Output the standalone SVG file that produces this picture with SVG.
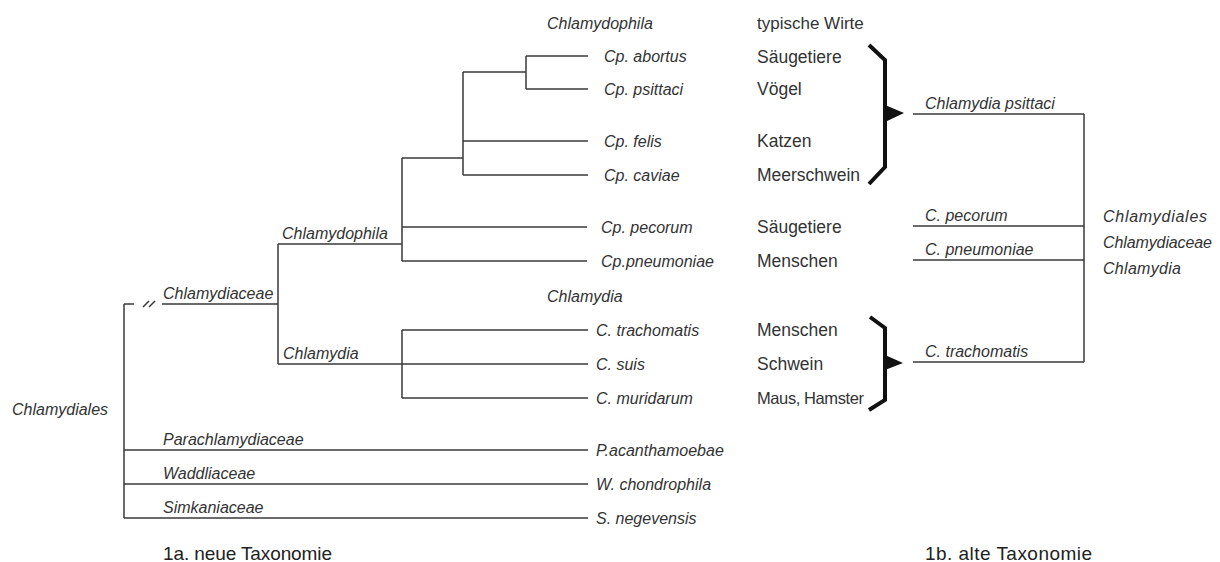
<svg xmlns="http://www.w3.org/2000/svg" width="1220" height="562" viewBox="0 0 1220 562">
<style>
  .t { font-family: "Liberation Sans", Arial, sans-serif; font-size: 16px; fill: #333; }
  .i { font-style: italic; }
  .h { font-size: 17.5px; }
  .h2 { font-size: 17px; }
  .h3 { font-size: 16.5px; }
  .cap { font-size: 19px; fill: #222; }
  .ln { stroke: #3a3a3a; stroke-width: 1.5; fill: none; }
  .br { stroke: #111; stroke-width: 4; fill: none; stroke-linejoin: miter; }
  .tri { fill: #111; }
</style>
<rect width="1220" height="562" fill="#ffffff"/>

<g id="connectors">
  <path class="ln" d="M124,304 V518 M124,304 H134 M162,304 H278"/>
  <path class="ln" d="M143,307 L149,301 M149,307 L155,301" stroke-width="1.3"/>
  <path class="ln" d="M124,450 H588 M124,484 H588 M124,518 H588"/>
  <path class="ln" d="M278,244 V364 M278,244 H402 M278,364 H402"/>
  <path class="ln" d="M402,158 V261 M402,158 H463 M402,227 H587 M402,261 H587"/>
  <path class="ln" d="M463,72 V175 M463,72 H526 M463,141 H588 M463,175 H588"/>
  <path class="ln" d="M526,56 V89 M526,56 H588 M526,89 H588"/>
  <path class="ln" d="M402,330 V398 M402,330 H588 M402,364 H588 M402,398 H588"/>
  <path class="ln" d="M1084,114 V362 M913,114 H1084 M913,226 H1084 M913,260 H1084 M913,362 H1084"/>
  <path class="br" d="M869,45 L885,60 V167 L869,184"/>
  <polygon class="tri" points="885,105 904,113 885,122"/>
  <path class="br" d="M870,317 L885,328 V400 L869,410"/>
  <polygon class="tri" points="885,355 903,363 885,370"/>
</g>

<g id="n-chlamydiales"><text class="t i" x="12" y="415">Chlamydiales</text></g>
<g id="n-chlamydiaceae"><text class="t i" x="163" y="299">Chlamydiaceae</text></g>
<g id="n-chlamydophila-branch"><text class="t i" x="282" y="239">Chlamydophila</text></g>
<g id="n-chlamydia-branch"><text class="t i" x="283" y="359">Chlamydia</text></g>
<g id="n-parachlamydiaceae"><text class="t i" x="163" y="445">Parachlamydiaceae</text></g>
<g id="n-waddliaceae"><text class="t i" x="163" y="479">Waddliaceae</text></g>
<g id="n-simkaniaceae"><text class="t i" x="163" y="513">Simkaniaceae</text></g>

<g id="n-head-chlamydophila"><text class="t i" x="547" y="29">Chlamydophila</text></g>
<g id="n-head-hosts"><text class="t h2" x="757" y="29">typische Wirte</text></g>

<g id="n-abortus"><text class="t i" x="604" y="62">Cp. abortus</text><text class="t h" x="757" y="63">Säugetiere</text></g>
<g id="n-psittaci"><text class="t i" x="604" y="95">Cp. psittaci</text><text class="t h" x="757" y="95">Vögel</text></g>
<g id="n-felis"><text class="t i" x="604" y="147">Cp. felis</text><text class="t h" x="757" y="147">Katzen</text></g>
<g id="n-caviae"><text class="t i" x="604" y="181">Cp. caviae</text><text class="t h" x="757" y="181">Meerschwein</text></g>
<g id="n-pecorum"><text class="t i" x="601" y="233">Cp. pecorum</text><text class="t h" x="757" y="233">Säugetiere</text></g>
<g id="n-pneumoniae"><text class="t i" x="601" y="267">Cp.pneumoniae</text><text class="t h" x="757" y="267">Menschen</text></g>

<g id="n-head-chlamydia"><text class="t i" x="547" y="302">Chlamydia</text></g>
<g id="n-trachomatis"><text class="t i" x="596" y="336">C. trachomatis</text><text class="t h" x="757" y="336">Menschen</text></g>
<g id="n-suis"><text class="t i" x="596" y="370">C.  suis</text><text class="t h" x="757" y="370">Schwein</text></g>
<g id="n-muridarum"><text class="t i" x="596" y="404">C.  muridarum</text><text class="t h3" x="757" y="404" textLength="107">Maus, Hamster</text></g>

<g id="n-acanthamoebae"><text class="t i" x="596" y="456">P.acanthamoebae</text></g>
<g id="n-chondrophila"><text class="t i" x="596" y="490">W. chondrophila</text></g>
<g id="n-negevensis"><text class="t i" x="596" y="524">S. negevensis</text></g>

<g id="n-old-psittaci"><text class="t i" x="925" y="109">Chlamydia psittaci</text></g>
<g id="n-old-pecorum"><text class="t i" x="925" y="221">C.  pecorum</text></g>
<g id="n-old-pneumoniae"><text class="t i" x="925" y="255">C. pneumoniae</text></g>
<g id="n-old-trachomatis"><text class="t i" x="925" y="357">C. trachomatis</text></g>

<g id="n-old-root">
  <text class="t i" x="1103" y="222" textLength="104">Chlamydiales</text>
  <text class="t i" x="1103" y="248" textLength="109">Chlamydiaceae</text>
  <text class="t i" x="1103" y="274" textLength="78">Chlamydia</text>
</g>

<g id="n-caption-a"><text class="t cap" x="163" y="560" textLength="169">1a. neue Taxonomie</text></g>
<g id="n-caption-b"><text class="t cap" x="925" y="560" textLength="167">1b. alte Taxonomie</text></g>
</svg>
